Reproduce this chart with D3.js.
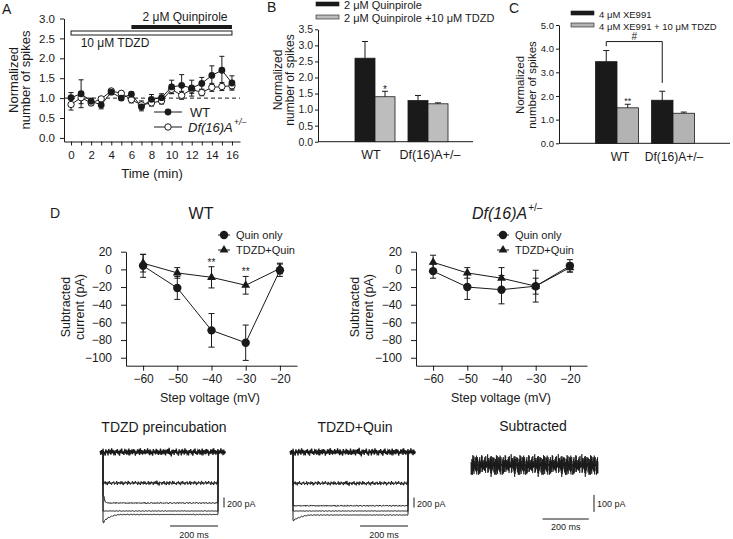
<!DOCTYPE html>
<html><head><meta charset="utf-8">
<script src="https://cdn.jsdelivr.net/npm/d3@7"></script>
<style>
body{margin:0;background:#fff;}
svg{display:block;font-family:"Liberation Sans",Arial,Helvetica,sans-serif;}
</style></head><body>
<svg id="fig" width="733" height="539"></svg>
<script>
// ---------- Panel A data ----------
const timeMin = [0,1,2,3,4,5,6,7,8,9,10,11,12,13,14,15,16];
const wtMean = [1.01,1.11,0.92,0.83,1.15,1.00,1.10,0.78,0.97,1.01,1.28,1.32,1.25,1.37,1.57,1.70,1.38];
const wtErr  = [0.13,0.35,0.08,0.10,0.06,0.06,0.05,0.10,0.12,0.10,0.17,0.27,0.20,0.15,0.24,0.35,0.18];
const dfMean = [0.84,1.01,0.88,0.98,1.18,1.12,0.96,0.83,0.88,0.93,1.22,1.07,1.22,1.14,1.27,1.29,1.31];
const dfErr  = [0.14,0.15,0.07,0.06,0.05,0.05,0.08,0.10,0.08,0.08,0.10,0.10,0.10,0.08,0.10,0.10,0.08];
const aYTicks = [0,0.5,1.0,1.5,2.0,2.5,3.0];
const tdzdBar = [0,16], quinBar = [6,16];
// ---------- Panel B data ----------
const bGroups = ["WT","Df(16)A+/–"];
const bSeries = ["2 μM Quinpirole","2 μM Quinpirole +10 μM TDZD"];
const bQuin = [2.60,1.28], bQuinErr = [0.52,0.16];
const bTdzd = [1.40,1.18], bTdzdErr = [0.17,0.03];
const bYTicks = [0,0.5,1.0,1.5,2.0,2.5,3.0,3.5];
// ---------- Panel C data ----------
const cGroups = ["WT","Df(16)A+/–"];
const cSeries = ["4 μM XE991","4 μM XE991 + 10 μM TDZD"];
const cXe = [3.45,1.82], cXeErr = [0.47,0.38];
const cTdzd = [1.50,1.27], cTdzdErr = [0.15,0.05];
const cYTicks = [0,1,2,3,4,5];
// ---------- Panel D data ----------
const stepV = [-60,-50,-40,-30,-20];
const dYTicks = [20,0,-20,-40,-60,-80,-100];
const wtQuin = [4,-21,-69,-83,-1], wtQuinErr = [13,13,19,20,7];
const wtTQ   = [7,-4,-9,-18,1],    wtTQErr   = [10,6,12,10,6];
const dfQuin = [-2,-20,-23,-19,4], dfQuinErr = [8,14,16,18,7];
const dfTQ   = [8,-4,-10,-19,2],   dfTQErr   = [8,6,12,9,5];
// ---------- Example traces (pA levels, hand-read) ----------
const preLevels  = [0,-620,-1020,-1180,-1250];
const quinLevels = [0,-625,-1075,-1180,-1260];
const traceAmp   = [75,42,14,7,7];
const preTrans5  = [-160,-130,-110,-95,-80,-68,-58,-48,-40,-33,-27,-22,-17,-13,-10,-7,-5,-3,-2,-1,0];
const preTrans3  = [150,80,35,12,4,0];
const quinTrans5 = [-110,-95,-85,-75,-66,-58,-50,-43,-37,-31,-26,-21,-17,-13,-10,-7,-5,-3,-2,-1,0];
const noise = [0.3,-0.8,0.5,-0.2,0.9,-0.6,0.1,-1.0,0.7,-0.3,0.4,-0.9,0.8,-0.1,0.2,-0.7,1.0,-0.4,0.6,-0.5,0.0,-0.9,0.5,-0.2,0.8,-0.6,0.3,-1.0,0.6,-0.3,0.9,-0.5,0.2,-0.8,0.4,-0.1,0.7,-0.7,0.1,-0.4,0.9,-0.9,0.5,-0.2,0.3,-0.6,0.8,-0.3,0.6,-1.0,0.2,-0.5,0.7,-0.1,0.4,-0.8,1.0,-0.4,0.5,-0.7,0.1,-0.2,0.8,-0.6,0.45,-0.35,0.95,-0.15,0.25,-0.85,0.65,-0.55,0.15,-0.95,0.75,-0.25,0.35,-0.65,0.85,-0.45,0.55,-0.75,0.05,-0.3,0.9,-0.8,0.4,-0.6,0.7,-0.2,0.3,-0.9,0.6,-0.4,0.8,-0.5,1.1,-0.7,0.2,-1.2,0.6,-0.1];

const svg = d3.select("#fig");
const INK = "#1a1a1a";

function label(g, x, y, s, size, opts = {}) {
  const t = g.append("text").attr("x", x).attr("y", y).attr("font-size", size)
    .attr("fill", INK).attr("text-anchor", opts.anchor || "start").text(s);
  if (opts.rotate) t.attr("transform", `rotate(-90,${x},${y})`);
  if (opts.italic) t.attr("font-style", "italic");
  if (opts.weight) t.attr("font-weight", opts.weight);
  return t;
}
function styleAxis(ax, size) {
  ax.selectAll("path,line").attr("stroke", INK).attr("stroke-width", 1);
  ax.selectAll("text").attr("font-size", size).attr("fill", INK).attr("font-family", null);
}
function errBar(g, x, y1, y2, cap) {
  g.append("line").attr("x1", x).attr("x2", x).attr("y1", y1).attr("y2", y2).attr("stroke", INK).attr("stroke-width", 1);
  g.append("line").attr("x1", x - cap).attr("x2", x + cap).attr("y1", y2).attr("y2", y2).attr("stroke", INK).attr("stroke-width", 1);
}

// ================= Panel A =================
(function () {
  const g = svg.append("g");
  const x = d3.scaleLinear().domain([-0.7, 16.8]).range([64, 240]);
  const y = d3.scaleLinear().domain([-0.09, 3]).range([141.5, 18.5]);
  label(g, 2, 14, "A", 14);
  const ay = g.append("g").attr("transform", "translate(64,0)")
    .call(d3.axisLeft(y).tickValues(aYTicks).tickFormat(d3.format(".1f")).tickSize(4).tickPadding(5).tickSizeOuter(0));
  styleAxis(ay, 11.5);
  const ax = g.append("g").attr("transform", "translate(0,141.5)")
    .call(d3.axisBottom(x).tickValues(timeMin).tickFormat(d => d % 2 === 0 ? d : "").tickSize(4).tickPadding(5).tickSizeOuter(0));
  styleAxis(ax, 11.5);
  label(g, 17.5, 80, "Normalized", 13, { anchor: "middle", rotate: true });
  label(g, 30, 80, "number of spikes", 13, { anchor: "middle", rotate: true });
  label(g, 152, 178, "Time (min)", 13, { anchor: "middle" });
  // drug bars
  g.append("rect").attr("x", x(quinBar[0])).attr("width", x(quinBar[1]) - x(quinBar[0]))
    .attr("y", 25).attr("height", 4).attr("fill", INK);
  g.append("rect").attr("x", x(tdzdBar[0])).attr("width", x(tdzdBar[1]) - x(tdzdBar[0]))
    .attr("y", 31).attr("height", 4).attr("fill", "#fff").attr("stroke", INK).attr("stroke-width", 1);
  label(g, 185, 21, "2 μM Quinpirole", 12, { anchor: "middle" });
  label(g, 115, 47, "10 μM TDZD", 12, { anchor: "middle" });
  // dashed baseline
  g.append("line").attr("x1", 64).attr("x2", 240).attr("y1", y(1)).attr("y2", y(1))
    .attr("stroke", INK).attr("stroke-dasharray", "4,3");
  // error bars
  timeMin.forEach((t, i) => {
    errBar(g, x(t), y(wtMean[i] - wtErr[i]), y(wtMean[i] + wtErr[i]), 2.5);
    g.append("line").attr("x1", x(t) - 2.5).attr("x2", x(t) + 2.5).attr("y1", y(wtMean[i] - wtErr[i])).attr("y2", y(wtMean[i] - wtErr[i])).attr("stroke", INK);
    errBar(g, x(t), y(dfMean[i] - dfErr[i]), y(dfMean[i] + dfErr[i]), 2.5);
    g.append("line").attr("x1", x(t) - 2.5).attr("x2", x(t) + 2.5).attr("y1", y(dfMean[i] - dfErr[i])).attr("y2", y(dfMean[i] - dfErr[i])).attr("stroke", INK);
  });
  const line = d3.line().x((d, i) => x(timeMin[i])).y(d => y(d));
  g.append("path").attr("d", line(dfMean)).attr("fill", "none").attr("stroke", INK);
  g.append("path").attr("d", line(wtMean)).attr("fill", "none").attr("stroke", INK);
  timeMin.forEach((t, i) => {
    g.append("circle").attr("cx", x(t)).attr("cy", y(dfMean[i])).attr("r", 3.2).attr("fill", "#fff").attr("stroke", INK);
  });
  timeMin.forEach((t, i) => {
    g.append("circle").attr("cx", x(t)).attr("cy", y(wtMean[i])).attr("r", 3.4).attr("fill", INK);
  });
  // legend
  g.append("line").attr("x1", 154).attr("x2", 182).attr("y1", 112).attr("y2", 112).attr("stroke", INK);
  g.append("circle").attr("cx", 168).attr("cy", 112).attr("r", 3.4).attr("fill", INK);
  label(g, 190, 117, "WT", 13);
  g.append("line").attr("x1", 154).attr("x2", 182).attr("y1", 127).attr("y2", 127).attr("stroke", INK);
  g.append("circle").attr("cx", 168).attr("cy", 127).attr("r", 3.2).attr("fill", "#fff").attr("stroke", INK);
  const t = label(g, 188, 132, "Df(16)A", 13, { italic: true });
  const w = t.node().getComputedTextLength();
  label(g, 188 + w + 1, 125, "+/–", 9, { italic: true });
})();

// ================= Bar panels B & C =================
function barPanel(o) {
  const g = svg.append("g");
  const y = d3.scaleLinear().domain([0, o.ymax]).range([o.y0, o.ytop]);
  const x0 = d3.scaleBand().domain(o.groups).range(o.brange).paddingInner(o.pin).paddingOuter(o.pin / 2);
  const x1 = d3.scaleBand().domain([0, 1]).range([0, x0.bandwidth()]);
  label(g, o.letter[0], o.letter[1], o.letter[2], 14);
  const ay = g.append("g").attr("transform", `translate(${o.axisX},0)`)
    .call(d3.axisLeft(y).tickValues(o.ticks).tickFormat(d3.format(".1f")).tickSize(3).tickPadding(2).tickSizeOuter(0));
  styleAxis(ay, o.tickSize);
  g.append("line").attr("x1", o.axisX).attr("x2", o.axisRight).attr("y1", o.y0).attr("y2", o.y0).attr("stroke", INK);
  const vals = [o.s1, o.s2], errs = [o.e1, o.e2], fills = [INK, o.gray];
  o.groups.forEach((grp, gi) => {
    [0, 1].forEach(si => {
      const bx = x0(grp) + x1(si);
      g.append("rect").attr("x", bx).attr("width", x1.bandwidth()).attr("y", y(vals[si][gi]))
        .attr("height", y(0) - y(vals[si][gi])).attr("fill", fills[si]).attr("stroke", INK).attr("stroke-width", 0.8);
      errBar(g, bx + x1.bandwidth() / 2, y(vals[si][gi]), y(vals[si][gi] + errs[si][gi]), 3);
    });
    label(g, x0(grp) + x0.bandwidth() / 2 + o.labelShift[gi], o.y0 + 17.5, grp, o.catSize, { anchor: "middle" });
  });
  label(g, o.ylab[0], o.ylab[2], "Normalized", o.ylabSize, { anchor: "middle", rotate: true });
  label(g, o.ylab[1], o.ylab[2], "number of spikes", o.ylabSize, { anchor: "middle", rotate: true });
  // legend
  o.series.forEach((s, i) => {
    g.append("rect").attr("x", o.leg[0]).attr("y", o.leg[1] + i * o.leg[3]).attr("width", 23).attr("height", 4)
      .attr("fill", fills[i]).attr("stroke", INK).attr("stroke-width", 0.6);
    label(g, o.leg[0] + 28, o.leg[1] + i * o.leg[3] + 6.5, s, o.leg[2]);
  });
  return { g, x0, x1, y };
}

const B = barPanel({
  groups: bGroups, series: bSeries, s1: bQuin, s2: bTdzd, e1: bQuinErr, e2: bTdzdErr,
  ymax: 3.5, y0: 141.7, ytop: 29.3, ticks: bYTicks, axisX: 318, axisRight: 473,
  brange: [348.5, 454.5], pin: 0.245, gray: "#bdbdbd", letter: [267, 12, "B"],
  tickSize: 10.5, catSize: 12.5, labelShift: [-4, 2], ylab: [282, 294, 80], ylabSize: 12,
  leg: [316, 2, 11, 13]
});
label(B.g, B.x0("WT") + B.x1(1) + B.x1.bandwidth() / 2, B.y(bTdzd[0] + bTdzdErr[0]) + 2, "*", 10, { anchor: "middle" });

const C = barPanel({
  groups: cGroups, series: cSeries, s1: cXe, s2: cTdzd, e1: cXeErr, e2: cTdzdErr,
  ymax: 5, y0: 143.3, ytop: 25, ticks: cYTicks, axisX: 559, axisRight: 730,
  brange: [589, 701], pin: 0.232, gray: "#b3b3b3", letter: [509, 13, "C"],
  tickSize: 9.5, catSize: 12, labelShift: [3, 1], ylab: [524, 536, 85], ylabSize: 11.5,
  leg: [571, 11, 9.5, 12]
});
label(C.g, C.x0("WT") + C.x1(1) + C.x1.bandwidth() / 2, C.y(cTdzd[0] + cTdzdErr[0]) + 0, "**", 9, { anchor: "middle" });
(function () {
  const g = C.g, y = C.y;
  const xa = C.x0("WT") + C.x1.bandwidth() / 2, xb = C.x0(cGroups[1]) + C.x1.bandwidth() / 2;
  const yt = y(4.3);
  g.append("path").attr("d", `M${xa},${y(4.1)}V${yt}H${xb}V${y(cXe[1] + cXeErr[1] + 0.35)}`)
    .attr("fill", "none").attr("stroke", INK);
  label(g, (xa + xb) / 2, yt - 2, "#", 10, { anchor: "middle" });
})();

// ================= Panel D =================
function ivPanel(o) {
  const g = svg.append("g");
  const x = d3.scaleLinear().domain([-65, -15]).range([o.ax, o.ax + 171]);
  const y = d3.scaleLinear().domain([-109, 20]).range([365.7, 251.7]);
  const ay = g.append("g").attr("transform", `translate(${o.ax},0)`)
    .call(d3.axisLeft(y).tickValues(dYTicks).tickSize(5).tickPadding(9).tickSizeOuter(0));
  styleAxis(ay, 12);
  const axb = g.append("g").attr("transform", "translate(0,365.7)")
    .call(d3.axisBottom(x).tickValues(stepV).tickSize(5).tickPadding(4).tickSizeOuter(0));
  styleAxis(axb, 12);
  label(g, o.ylx[0], 307, "Subtracted", 12.5, { anchor: "middle", rotate: true });
  label(g, o.ylx[1], 307, "current (pA)", 12.5, { anchor: "middle", rotate: true });
  label(g, o.xlab, 402, "Step voltage (mV)", 12.5, { anchor: "middle" });
  const sets = [[o.quin, o.quinErr, "circle"], [o.tq, o.tqErr, "tri"]];
  sets.forEach(([m, e]) => stepV.forEach((v, i) => {
    errBar(g, x(v), y(m[i] - e[i]), y(m[i] + e[i]), 3);
    g.append("line").attr("x1", x(v) - 3).attr("x2", x(v) + 3).attr("y1", y(m[i] - e[i])).attr("y2", y(m[i] - e[i])).attr("stroke", INK);
  }));
  const line = d3.line().x((d, i) => x(stepV[i])).y(d => y(d));
  sets.forEach(([m]) => g.append("path").attr("d", line(m)).attr("fill", "none").attr("stroke", INK));
  const tri = d3.symbol().type(d3.symbolTriangle).size(34);
  stepV.forEach((v, i) => {
    g.append("circle").attr("cx", x(v)).attr("cy", y(o.quin[i])).attr("r", 4.2).attr("fill", INK);
    g.append("path").attr("d", tri()).attr("transform", `translate(${x(v)},${y(o.tq[i])})`).attr("fill", INK);
  });
  // legend
  const lx = o.leg;
  g.append("line").attr("x1", lx).attr("x2", lx + 12).attr("y1", 235).attr("y2", 235).attr("stroke", INK);
  g.append("circle").attr("cx", lx + 6).attr("cy", 235).attr("r", 4.2).attr("fill", INK);
  label(g, lx + 18, 239, "Quin only", 11);
  g.append("line").attr("x1", lx).attr("x2", lx + 12).attr("y1", 250).attr("y2", 250).attr("stroke", INK);
  g.append("path").attr("d", tri()).attr("transform", `translate(${lx + 6},250)`).attr("fill", INK);
  label(g, lx + 18, 254, "TDZD+Quin", 11);
  return { g, x, y };
}
label(svg, 50, 218, "D", 14);
const DW = ivPanel({ ax: 126, quin: wtQuin, quinErr: wtQuinErr, tq: wtTQ, tqErr: wtTQErr, ylx: [70, 84], xlab: 210, leg: 218 });
label(DW.g, 201, 219, "WT", 16, { anchor: "middle" });
[-40, -30].forEach(v => {
  const i = stepV.indexOf(v);
  label(DW.g, DW.x(v), DW.y(wtTQ[i] + wtTQErr[i]) - 1, "**", 10, { anchor: "middle" });
});
const DD = ivPanel({ ax: 416, quin: dfQuin, quinErr: dfQuinErr, tq: dfTQ, tqErr: dfTQErr, ylx: [359, 373], xlab: 501, leg: 497 });
{
  const t = label(DD.g, 472, 219, "Df(16)A", 16, { italic: true });
  const w = t.node().getComputedTextLength();
  label(DD.g, 472 + w + 1, 211, "+/–", 10);
}

// ================= Example traces =================
function tracePts(level, amp, trans, off) {
  const pts = [];
  let k = off;
  for (let t = -12; t < 0; t += 3) pts.push([t, (level === 0 ? amp : 0) * noise[(k++) % noise.length]]);
  pts.push([0, 0]);
  let i = 0;
  for (let t = 0; t <= 480; t += 3, i++) pts.push([t, level + (trans[Math.floor(i * 3 / 4)] || 0) + amp * noise[(k++) % noise.length]]);
  pts.push([480, 0]);
  for (let t = 483; t <= 510; t += 3) pts.push([t, (level === 0 ? amp : 0) * noise[(k++) % noise.length]]);
  return pts;
}
function traceSet(x0, levels, trans, title, titleX) {
  const g = svg.append("g");
  const x = d3.scaleLinear().domain([0, 480]).range([x0, x0 + 115]);
  const y = d3.scaleLinear().domain([0, -1000]).range([452, 502]);
  const line = d3.line().x(d => x(d[0])).y(d => y(d[1]));
  levels.forEach((lv, i) => {
    g.append("path").attr("d", line(tracePts(lv, traceAmp[i], trans[i] || [], i * 17)))
      .attr("fill", "none").attr("stroke", INK).attr("stroke-width", i === 0 ? 1.3 : 1.0);
  });
  label(g, titleX, 432, title, 14, { anchor: "middle" });
  // scale bars
  g.append("line").attr("x1", x(280)).attr("x2", x(480)).attr("y1", 526).attr("y2", 526).attr("stroke", INK);
  label(g, x(380), 538, "200 ms", 9, { anchor: "middle" });
  const sx = x0 + 121;
  g.append("line").attr("x1", sx).attr("x2", sx).attr("y1", y(-910)).attr("y2", y(-1110)).attr("stroke", INK);
  label(g, sx + 3, 507, "200 pA", 9);
}
traceSet(103, preLevels, [null, null, preTrans3, null, preTrans5], "TDZD preincubation", 164);
traceSet(293, quinLevels, [null, null, null, null, quinTrans5], "TDZD+Quin", 355);
(function () {
  const g = svg.append("g");
  const x = d3.scaleLinear().domain([0, 550]).range([471, 598]);
  const y = d3.scaleLinear().domain([0, 100]).range([465, 448]);
  const pts = [];
  for (let t = 0, k = 0; t <= 550; t += 1, k++) pts.push([t, 58 * noise[(k * 7) % noise.length]]);
  g.append("path").attr("d", d3.line().x(d => x(d[0])).y(d => y(d[1]))(pts))
    .attr("fill", "none").attr("stroke", INK).attr("stroke-width", 0.8);
  label(g, 533, 431, "Subtracted", 14, { anchor: "middle" });
  g.append("line").attr("x1", x(310)).attr("x2", x(510)).attr("y1", 519).attr("y2", 519).attr("stroke", INK);
  label(g, x(410), 530, "200 ms", 9, { anchor: "middle" });
  g.append("line").attr("x1", 594).attr("x2", 594).attr("y1", y(-176)).attr("y2", y(-276)).attr("stroke", INK);
  label(g, 597, 507, "100 pA", 9);
})();
</script>
</body></html>
